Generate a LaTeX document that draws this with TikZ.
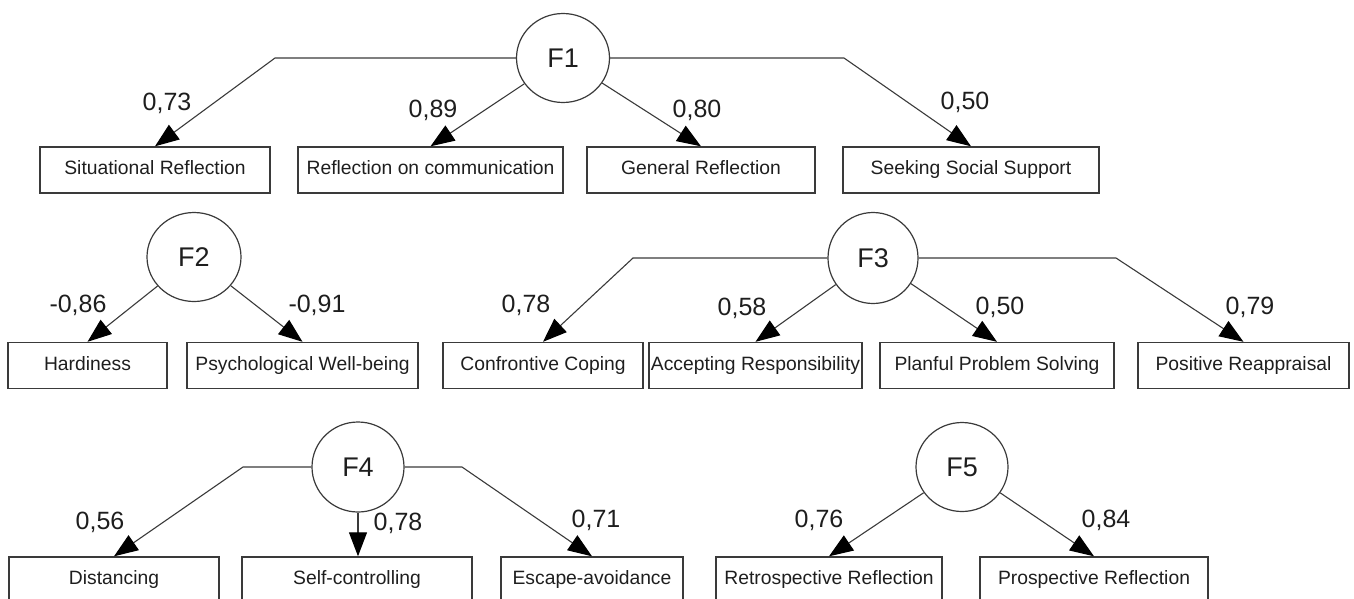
\documentclass[tikz,border=0pt]{standalone}
\usepackage{fontspec}
\setmainfont{Liberation Sans}
\usetikzlibrary{arrows.meta,shapes.geometric}
\definecolor{ink}{HTML}{1E1E1E}
\definecolor{linec}{HTML}{3A3A3A}
\tikzset{
  every node/.style={text=ink},
  factor/.style={ellipse,draw=linec,line width=1.2pt,inner sep=0pt,font=\fontsize{27}{29}\selectfont},
  meas/.style={rectangle,draw=linec,line width=1.4pt,inner sep=0pt,minimum height=46pt,
    text height=13.5pt,text depth=4pt,font=\fontsize{19.3}{21}\selectfont},
  load/.style={font=\fontsize{25}{27}\selectfont,inner sep=0pt},
  conn/.style={draw=linec,line width=1.1pt,-{Triangle[length=24pt,width=18pt,color=black]}},
}
\begin{document}
\begin{tikzpicture}[x=1pt,y=-1pt]
\useasboundingbox (0,0) rectangle (1354,598);
\clip (0,0) rectangle (1354,598);
% Row 1
\node[factor,minimum width=93pt,minimum height=89pt] (F1) at (563,58) {F1};
\node[meas,minimum width=230pt] (sr) at (155,170) {Situational Reflection};
\node[meas,minimum width=265pt] (rc) at (430.5,170) {Reflection on communication};
\node[meas,minimum width=228pt] (gr) at (701,170) {General Reflection};
\node[meas,minimum width=256pt] (ss) at (971,170) {Seeking Social Support};
\coordinate (c1l) at (275,58);
\coordinate (c1r) at (844,58);
\draw[conn] (F1.west) -- (c1l) -- (sr.north);
\draw[conn] (F1) -- (rc.north);
\draw[conn] (F1) -- (gr.north);
\draw[conn] (F1.east) -- (c1r) -- (ss.north);
\node[load] (l1) at (167,103) {0,73};
\node[load] (l2) at (433,110) {0,89};
\node[load] (l3) at (697,110) {0,80};
\node[load] (l4) at (965,102) {0,50};
% Row 2
\node[factor,minimum width=94pt,minimum height=89pt] (F2) at (194,257) {F2};
\node[factor,minimum width=90pt,minimum height=91pt] (F3) at (873,258) {F3};
\node[meas,minimum width=159pt] (ha) at (87.5,365.5) {Hardiness};
\node[meas,minimum width=231pt] (pw) at (302.5,365.5) {Psychological Well-being};
\node[meas,minimum width=200pt] (cc) at (543,365.5) {Confrontive Coping};
\node[meas,minimum width=213pt] (ar) at (755.5,365.5) {Accepting Responsibility};
\node[meas,minimum width=234pt] (pp) at (997,365.5) {Planful Problem Solving};
\node[meas,minimum width=211pt] (pr) at (1243.5,365.5) {Positive Reappraisal};
\coordinate (c3l) at (633,258);
\coordinate (c3r) at (1116,258);
\draw[conn] (F2) -- (ha.north);
\draw[conn] (F2) -- (pw.north);
\draw[conn] (F3.west) -- (c3l) -- (cc.north);
\draw[conn] (F3) -- (ar.north);
\draw[conn] (F3) -- (pp.north);
\draw[conn] (F3.east) -- (c3r) -- (pr.north);
\node[load] (l5) at (78,305) {-0,86};
\node[load] (l6) at (317,305) {-0,91};
\node[load] (l7) at (526,305) {0,78};
\node[load] (l8) at (742,308) {0,58};
\node[load] (l9) at (1000,307) {0,50};
\node[load] (l10) at (1250,307) {0,79};
% Row 3
\node[factor,minimum width=92pt,minimum height=90pt] (F4) at (358,467) {F4};
\node[factor,minimum width=92pt,minimum height=89pt] (F5) at (962,467) {F5};
\node[meas,minimum width=210pt] (di) at (114,580) {Distancing};
\node[meas,minimum width=230pt] (sc) at (357,580) {Self-controlling};
\node[meas,minimum width=182pt] (ea) at (592,580) {Escape-avoidance};
\node[meas,minimum width=226pt] (rr) at (829,580) {Retrospective Reflection};
\node[meas,minimum width=228pt] (pf) at (1094,580) {Prospective Reflection};
\coordinate (c4l) at (243,467);
\coordinate (c4r) at (462,467);
\draw[conn] (F4.west) -- (c4l) -- (di.north);
\draw[conn] (F4.south) -- (F4.south |- sc.north);
\draw[conn] (F4.east) -- (c4r) -- (ea.north);
\draw[conn] (F5) -- (rr.north);
\draw[conn] (F5) -- (pf.north);
\node[load] (l11) at (100,522) {0,56};
\node[load] (l12) at (398,523) {0,78};
\node[load] (l13) at (596,520) {0,71};
\node[load] (l14) at (819,520) {0,76};
\node[load] (l15) at (1106,520) {0,84};
\end{tikzpicture}
\end{document}
